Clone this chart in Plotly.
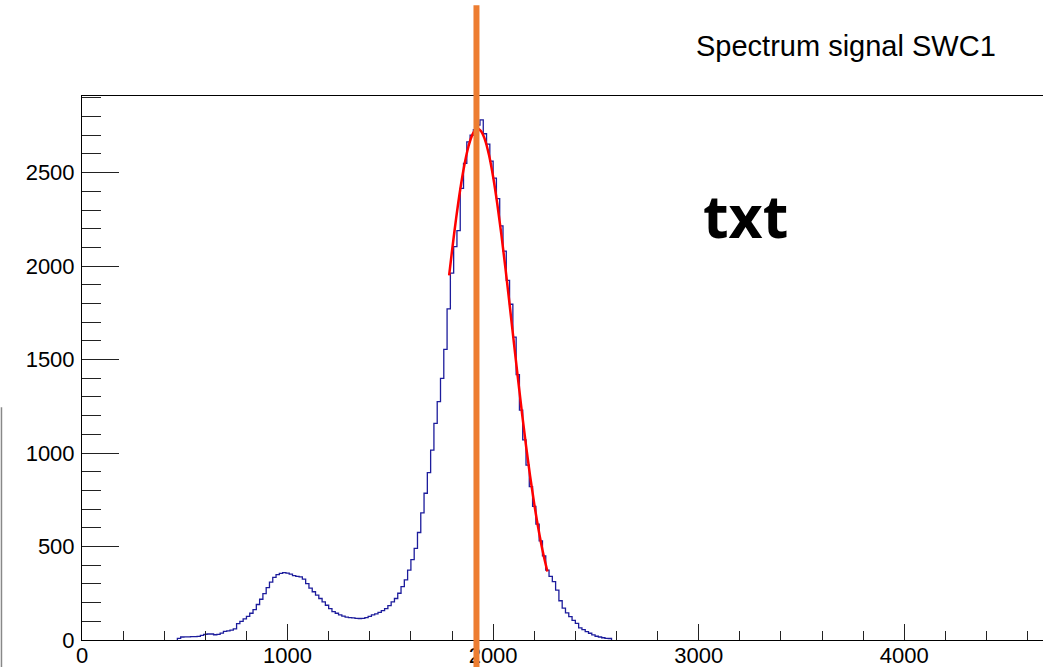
import plotly.graph_objects as go

# ---- data ----
bin_start = 464
bin_width = 16
counts = [
    9, 16, 17, 17, 18, 18, 19, 25, 30, 32, 32, 28, 30, 37, 46, 49, 53, 60,
    88, 100, 113, 126, 143, 163, 190, 218, 248, 280, 310, 335, 350, 356, 360,
    358, 352, 344, 340, 338, 326, 302, 278, 258, 240, 222, 204, 186, 168, 152,
    143, 134, 128, 122, 120, 118, 116, 115, 116, 120, 126, 134, 140, 148, 157,
    168, 184, 204, 222, 250, 285, 322, 374, 430, 490, 575, 680, 785, 895, 1016,
    1159, 1275, 1400, 1555, 1771, 1962, 2104, 2190, 2416, 2550, 2665, 2700,
    2730, 2755, 2782, 2708, 2653, 2562, 2471, 2361, 2215, 2080, 1924, 1796,
    1620, 1420, 1230, 1070, 935, 820, 715, 620, 530, 450, 374, 340, 312, 267,
    210, 170, 145, 125, 105, 89, 65, 55, 45, 36, 27, 20, 16, 12, 9, 8,
]

fit_x = [1786, 1800, 1820, 1840, 1860, 1880, 1900, 1920, 1940, 1960, 1980,
         2000, 2020, 2040, 2060, 2080, 2100, 2120, 2140, 2160, 2180, 2200,
         2220, 2240, 2264]
fit_y = [1950, 2081, 2255, 2410, 2540, 2640, 2705, 2734, 2724, 2677, 2594,
         2478, 2335, 2170, 1988, 1796, 1600, 1406, 1218, 1040, 876, 728,
         596, 481, 366]

marker_x = 1919
title_text = "Spectrum signal SWC1"
label_text = "txt"
x_range = [0, 4675]
y_range = [0, 2910]

# ---- build step outline ----
edges = [bin_start + bin_width * i for i in range(len(counts) + 1)]
hx = [edges[0]] + edges[:-1] + [edges[-1]]
hy = [0] + counts + [0]

fig = go.Figure()
fig.add_trace(go.Scatter(x=hx, y=hy, mode="lines", line_shape="hv",
                         line=dict(color="#1c1c9c", width=1.3),
                         showlegend=False, hoverinfo="skip"))
fig.add_trace(go.Scatter(x=fit_x, y=fit_y, mode="lines", line_shape="spline",
                         line=dict(color="#ff0000", width=2.5),
                         showlegend=False, hoverinfo="skip"))

tickfont = dict(family="Liberation Sans, Arial, sans-serif", size=22, color="#000000")

fig.update_layout(
    width=1043, height=667,
    margin=dict(l=82, r=0, t=96, b=27),
    paper_bgcolor="white", plot_bgcolor="white",
    xaxis=dict(range=x_range, showgrid=False, zeroline=False, automargin=False,
               showline=True, linecolor="#000000", linewidth=1, mirror=True,
               ticks="inside", ticklen=16, tickwidth=1, tickcolor="#222222",
               dtick=1000, tick0=0, tickfont=tickfont, ticklabelstandoff=-4,
               minor=dict(ticks="inside", ticklen=9, dtick=200, tickcolor="#222222",
                          tickwidth=1, showgrid=False)),
    yaxis=dict(range=y_range, showgrid=False, zeroline=False, automargin=False,
               showline=True, linecolor="#000000", linewidth=1,
               ticks="inside", ticklen=37, tickwidth=1, tickcolor="#222222",
               dtick=500, tick0=0, tickfont=tickfont, ticklabelstandoff=2,
               minor=dict(ticks="inside", ticklen=19, dtick=100, tickcolor="#222222",
                          tickwidth=1, showgrid=False)),
    shapes=[
        dict(type="line", xref="x", yref="paper", x0=marker_x, x1=marker_x,
             y0=-0.06, y1=1.167, line=dict(color="#ED7D31", width=6), layer="above"),
        dict(type="line", xref="paper", yref="paper", x0=-0.0838, x1=-0.0838,
             y0=0.428, y1=-0.06, line=dict(color="#888888", width=1.5)),
    ],
    annotations=[
        dict(text=title_text, xref="paper", yref="paper", x=0.637, y=1.092,
             xanchor="left", yanchor="middle", showarrow=False,
             font=dict(family="Liberation Sans, Arial, sans-serif", size=29, color="#000000")),
        dict(text="<b>" + label_text + "</b>", xref="paper", yref="paper", x=0.690, y=0.782,
             xanchor="center", yanchor="middle", showarrow=False,
             font=dict(family="Noto Sans, sans-serif", size=59, color="#000000")),
    ],
)

fig.write_html("out.html",
               config={"displayModeBar": False},
               post_script="document.body.style.margin='0px';"
                           "document.body.style.overflow='hidden';")
